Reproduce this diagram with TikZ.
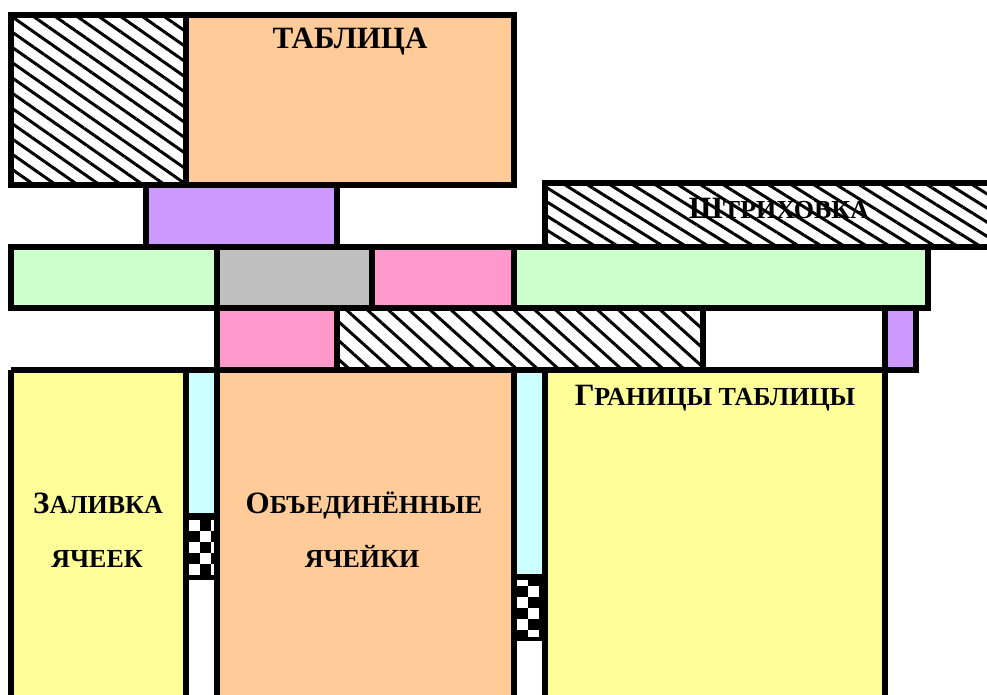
\documentclass[tikz,border=0pt]{standalone}
\usepackage{fontspec}
\setmainfont{Liberation Serif}
\usetikzlibrary{patterns.meta}
\definecolor{cOrange}{HTML}{FFCC99}
\definecolor{cPurple}{HTML}{CC99FF}
\definecolor{cGreen}{HTML}{CCFFCC}
\definecolor{cGray}{HTML}{C0C0C0}
\definecolor{cPink}{HTML}{FF99CC}
\definecolor{cYellow}{HTML}{FFFF99}
\definecolor{cCyan}{HTML}{CCFFFF}
\newcommand\LblBig[1]{{\fontsize{31}{31}\selectfont #1}}
\newcommand\LblSm[1]{{\fontsize{26}{26}\selectfont #1}}
\tikzset{
  border/.style={draw=black, line width=6pt},
  hatchA/.style={pattern={Lines[angle=-35,distance=12.5pt,line width=3pt]}, pattern color=black},
  hatchB/.style={pattern={Lines[angle=-32,distance=12pt,line width=3pt]}, pattern color=black},
  hatchC/.style={pattern={Lines[angle=-42,distance=14pt,line width=3pt]}, pattern color=black},
  lbl/.style={anchor=base, inner sep=0pt, font=\bfseries},
}
\begin{document}
\begin{tikzpicture}[x=1pt,y=-1pt]
\useasboundingbox (0,0) rectangle (987,695);
\fill[white] (0,0) rectangle (987,695);
\clip (0,0) rectangle (987,695);
% ---- fills ----
% top
\fill[white] (11,15.5) rectangle (186,185.5);
\path[hatchA] (11,15.5) rectangle (186,185.5);
\fill[cOrange] (186,15.5) rectangle (514,185.5);
\fill[cPurple] (145.5,185.5) rectangle (336.5,247);
\fill[white] (545,183) rectangle (1000,247);
\path[hatchB] (545,183) rectangle (1000,247);
% green row
\fill[cGreen] (10.5,247) rectangle (217,308);
\fill[cGray] (217,247) rectangle (372,308);
\fill[cPink] (372,247) rectangle (514,308);
\fill[cGreen] (514,247) rectangle (928,308);
% row 3
\fill[cPink] (217,308) rectangle (337,370);
\path[hatchC] (337,308) rectangle (703,370);
\fill[cPurple] (885,308) rectangle (916,370);
% bottom row
\fill[cYellow] (10.5,370) rectangle (186,700);
\fill[cCyan] (186,370) rectangle (217,513);
\fill[black] (186,513) rectangle (217,580);
\begin{scope}
  \clip (189,520) rectangle (214,575);
  \foreach \xa/\ya in {189/520,211/520,200/531,189/542,211/542,200/553,189/564,211/564}{
    \fill[white] (\xa,\ya) rectangle (\xa+11,\ya+11);}
\end{scope}
\fill[cOrange] (217,370) rectangle (514,700);
\fill[cCyan] (514,370) rectangle (545,574);
\fill[black] (514,574) rectangle (545,641);
\begin{scope}
  \clip (517,580) rectangle (542,636);
  \foreach \xa/\ya in {517/575,528/586,517/597,528/608,517/619,528/630}{
    \fill[white] (\xa,\ya) rectangle (\xa+11,\ya+11);}
\end{scope}
\fill[cYellow] (545,370) rectangle (885,700);
% ---- borders ----
\draw[border] (11,15.5) rectangle (514,185.5);
\draw[border] (186,15.5) -- (186,185.5);
\draw[border] (145.5,185.5) rectangle (336.5,247);
\draw[border] (545,247) -- (545,183) -- (1000,183);
\draw[border] (545,247) -- (1000,247);
\draw[border] (10.5,247) rectangle (928,308);
\draw[border] (217,247) -- (217,308);
\draw[border] (372,247) -- (372,308);
\draw[border] (514,247) -- (514,308);
\draw[border] (217,308) -- (217,370);
\draw[border] (337,308) -- (337,370);
\draw[border] (703,308) -- (703,370);
\draw[border] (885,308) rectangle (916,370);
\draw[border] (10.5,370) -- (916,370);
\draw[border] (10.5,370) -- (10.5,700);
\draw[border] (186,370) -- (186,700);
\draw[border] (217,370) -- (217,700);
\draw[border] (514,370) -- (514,700);
\draw[border] (545,370) -- (545,700);
\draw[border] (885,370) -- (885,700);
% ---- labels ----
\node[lbl] (tabl) at (350,49) {\fontsize{31}{31}\selectfont ТАБЛИЦА};
\node[lbl] (shtr) at (779,218) {\LblBig{Ш}\LblSm{ТРИХОВКА}};
\node[lbl] (gran) at (715,405) {\LblBig{Г}\LblSm{РАНИЦЫ ТАБЛИЦЫ}};
\node[lbl] (zal1) at (98,513) {\LblBig{З}\LblSm{АЛИВКА}};
\node[lbl] (zal2) at (97,567) {\LblSm{ЯЧЕЕК}};
\node[lbl] (obj1) at (364,513) {\LblBig{О}\LblSm{БЪЕДИНЁННЫЕ}};
\node[lbl] (obj2) at (362,567) {\LblSm{ЯЧЕЙКИ}};
\end{tikzpicture}
\end{document}
